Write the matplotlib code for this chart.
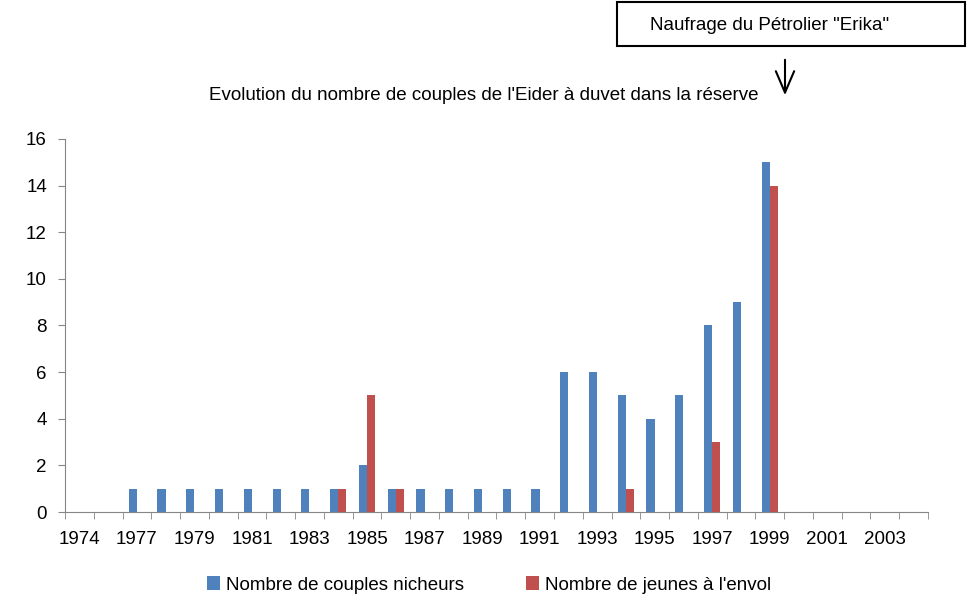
import numpy as np
import matplotlib
matplotlib.use("Agg")
import matplotlib.pyplot as plt
from matplotlib.patches import Rectangle, FancyArrowPatch

plt.rcParams['font.family'] = ['Liberation Sans', 'DejaVu Sans']

years = ['1974', '1976', '1977', '1978', '1979', '1980', '1981', '1982', '1983',
         '1984', '1985', '1986', '1987', '1988', '1989', '1990', '1991', '1992',
         '1993', '1994', '1995', '1996', '1997', '1998', '1999', '2000', '2001',
         '2002', '2003', '2004']
couples = [0, 0, 1, 1, 1, 1, 1, 1, 1, 1, 2, 1, 1, 1, 1, 1, 1, 6, 6, 5, 4, 5,
           8, 9, 15, 0, 0, 0, 0, 0]
jeunes = [0, 0, 0, 0, 0, 0, 0, 0, 0, 1, 5, 1, 0, 0, 0, 0, 0, 0, 0, 1, 0, 0,
          3, 0, 14, 0, 0, 0, 0, 0]

blue = '#4F81BD'
red = '#C0504D'
grey = '#868686'
fs = 13.5

fig = plt.figure(figsize=(9.73, 5.98), dpi=100)
ax = fig.add_axes([0.0668, 0.1438, 0.8869, 0.6238])

x = np.arange(len(years))
w = 0.286
ax.bar(x - w / 2, couples, w, color=blue, label='Nombre de couples nicheurs')
ax.bar(x + w / 2, jeunes, w, color=red, label="Nombre de jeunes à l'envol")

ax.set_xlim(-0.5, len(years) - 0.5)
ax.set_ylim(0, 16)
ax.set_yticks(range(0, 17, 2))
ax.set_xticks(x[::2])
ax.set_xticklabels(years[::2])
ax.set_xticks(np.arange(-0.5, len(years)), minor=True)
ax.tick_params(axis='x', which='major', length=0, pad=14, labelsize=fs)
ax.tick_params(axis='x', which='minor', length=5, color=grey, direction='out')
ax.tick_params(axis='y', length=5, color=grey, labelsize=fs, pad=8)

for s in ['top', 'right']:
    ax.spines[s].set_visible(False)
for s in ['left', 'bottom']:
    ax.spines[s].set_color(grey)

fig.text(484 / 973, 0.841, "Evolution du nombre de couples de l'Eider à duvet dans la réserve",
         ha='center', va='center', fontsize=fs)

# annotation box
fig.add_artist(Rectangle((617 / 973, 1 - 46 / 598), 348 / 973, 44 / 598,
                         transform=fig.transFigure, fc='white', ec='black', lw=1.5))
fig.text(770 / 973, 1 - 25 / 598, 'Naufrage du Pétrolier "Erika"', ha='center',
         va='center', fontsize=fs)
fig.add_artist(FancyArrowPatch(
    (785 / 973, 1 - 57 / 598), (785 / 973, 1 - 98 / 598), transform=fig.transFigure,
    arrowstyle='->,head_length=0.7,head_width=0.3', mutation_scale=22,
    color='black', lw=1.5))

ax.legend(loc='center', bbox_to_anchor=(489 / 973, 13 / 598),
          bbox_transform=fig.transFigure, ncol=2, frameon=False,
          fontsize=fs, handlelength=0.7, handleheight=0.7, handletextpad=0.3,
          columnspacing=3.3)

fig.savefig('out.png', dpi=100)
